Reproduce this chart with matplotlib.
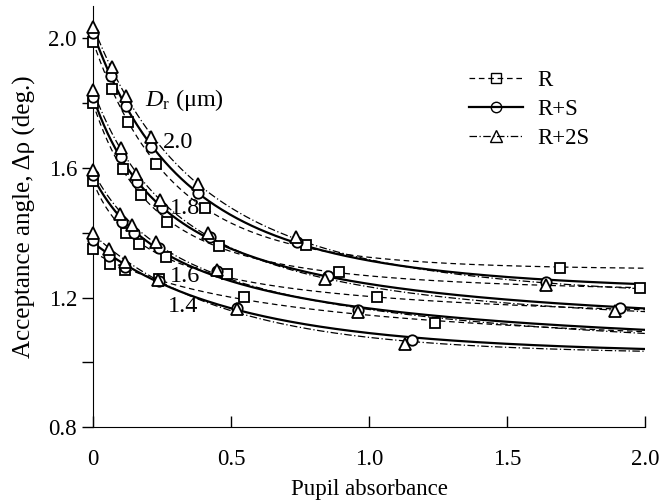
import numpy as np
import matplotlib
matplotlib.use("Agg")
import matplotlib.pyplot as plt

plt.rcParams['font.family'] = ['Liberation Serif', 'DejaVu Serif']
plt.rcParams['mathtext.fontset'] = 'custom'
plt.rcParams['mathtext.rm'] = 'Liberation Serif'
plt.rcParams['mathtext.it'] = 'Liberation Serif:italic'

# receptor diameters D_r (um)
diameters = ["2.0", "1.8", "1.6", "1.4"]

# pupil absorbance / acceptance angle, one pair of lists per curve
# D_r = 2.0
x_20_r = [0, 0.07, 0.127, 0.228, 0.405, 0.77, 1.69]
y_20_r = [1.988, 1.845, 1.743, 1.612, 1.476, 1.361, 1.29]
x_20_rs = [0, 0.065, 0.12, 0.21, 0.38, 0.74, 1.64]
y_20_rs = [2.018, 1.885, 1.792, 1.665, 1.523, 1.37, 1.248]
x_20_r2s = [0, 0.07, 0.12, 0.21, 0.38, 0.735, 1.64]
y_20_r2s = [2.034, 1.913, 1.823, 1.696, 1.55, 1.386, 1.238]
# D_r = 1.8
x_18_r = [0, 0.11, 0.174, 0.27, 0.457, 0.89, 1.98]
y_18_r = [1.80, 1.597, 1.516, 1.433, 1.358, 1.278, 1.23]
x_18_rs = [0, 0.10, 0.16, 0.25, 0.424, 0.85, 1.91]
y_18_rs = [1.82, 1.634, 1.556, 1.476, 1.386, 1.265, 1.169]
x_18_r2s = [0, 0.10, 0.155, 0.243, 0.417, 0.84, 1.89]
y_18_r2s = [1.842, 1.662, 1.58, 1.50, 1.40, 1.258, 1.157]
# D_r = 1.6
x_16_r = [0, 0.12, 0.167, 0.265, 0.485, 1.03]
y_16_r = [1.56, 1.40, 1.364, 1.324, 1.274, 1.203]
x_16_rs = [0, 0.105, 0.15, 0.24, 0.45, 0.96]
y_16_rs = [1.578, 1.433, 1.398, 1.352, 1.281, 1.162]
x_16_r2s = [0, 0.098, 0.14, 0.23, 0.45, 0.96]
y_16_r2s = [1.594, 1.457, 1.423, 1.37, 1.286, 1.155]
# D_r = 1.4
x_14_r = [0, 0.062, 0.115, 0.24, 0.547, 1.24]
y_14_r = [1.349, 1.305, 1.284, 1.256, 1.203, 1.122]
x_14_rs = [0, 0.06, 0.115, 0.24, 0.52, 1.155]
y_14_rs = [1.377, 1.327, 1.293, 1.252, 1.168, 1.07]
x_14_r2s = [0, 0.058, 0.115, 0.236, 0.52, 1.13]
y_14_r2s = [1.40, 1.35, 1.31, 1.255, 1.163, 1.057]

# value of each fitted curve where it meets the right edge (absorbance 2.0)
end_r = [1.29, 1.23, 1.16, 1.095]
end_rs = [1.243, 1.166, 1.10, 1.042]
end_r2s = [1.228, 1.157, 1.09, 1.035]

models = ["R", "R+S", "R+2S"]
curves = {
    "R": [(x_20_r, y_20_r), (x_18_r, y_18_r), (x_16_r, y_16_r), (x_14_r, y_14_r)],
    "R+S": [(x_20_rs, y_20_rs), (x_18_rs, y_18_rs), (x_16_rs, y_16_rs), (x_14_rs, y_14_rs)],
    "R+2S": [(x_20_r2s, y_20_r2s), (x_18_r2s, y_18_r2s), (x_16_r2s, y_16_r2s), (x_14_r2s, y_14_r2s)],
}
ends = {"R": end_r, "R+S": end_rs, "R+2S": end_r2s}

styles = {
    "R": dict(ls=(0, (4.5, 3)), lw=0.9, marker='s', ms=7),
    "R+S": dict(ls='-', lw=1.6, marker='o', ms=7.5),
    "R+2S": dict(ls=(0, (6, 2, 1, 2)), lw=0.9, marker='^', ms=8),
}


def fit_curve(x, y):
    """least squares fit of y = a + b / (1 + c*x)**p"""
    x = np.asarray(x, float)
    y = np.asarray(y, float)
    best = None
    for p in [0.7, 1.0, 1.5, 2.0, 3.0, 5.0, 8.0, 15.0]:
        for c in np.linspace(0.05, 12, 400):
            f = (1 + c * x) ** -p
            fm = f - f.mean()
            b = np.sum(fm * (y - y.mean())) / np.sum(fm ** 2)
            a = y.mean() - b * f.mean()
            err = np.sum((a + b * f - y) ** 2)
            if best is None or err < best[0]:
                best = (err, a, b, c, p)
    return best[1:]


def main():
    fig = plt.figure(figsize=(6.59, 5.03), dpi=100)
    ax = fig.add_axes([0.141, 0.151, 0.838, 0.837])

    xs = np.linspace(0, 2.0, 300)
    for m in models:
        st = styles[m]
        for i, (x, y) in enumerate(curves[m]):
            # right-edge value counted three times so the tail follows the picture
            a, b, c, p = fit_curve(list(x) + [2.0] * 3, list(y) + [ends[m][i]] * 3)
            ax.plot(xs, a + b * (1 + c * xs) ** -p, color='black', ls=st['ls'], lw=st['lw'])
            ax.plot(x, y, ls='none', marker=st['marker'], ms=st['ms'], mfc='white',
                    mec='black', mew=1.3, clip_on=False, zorder=3)
        # legend proxy
        ax.plot([], [], color='black', ls=st['ls'], lw=st['lw'], marker=st['marker'],
                ms=st['ms'], mfc='none', mec='black', mew=1.0, label=m)

    ax.legend(loc='upper left', bbox_to_anchor=(0.665, 0.869), frameon=False,
              fontsize=16.5, handlelength=2.36, handletextpad=0.6, labelspacing=0.33,
              borderaxespad=0)

    # curve labels
    ax.text(0.19, 1.81, r"$D_{\mathrm{r}}$ (μm)", fontsize=17.5, va='center')
    label_pos = [(0.254, 1.68), (0.28, 1.476), (0.28, 1.265), (0.27, 1.172)]
    for lab, (lx, ly) in zip(diameters, label_pos):
        ax.text(lx, ly, lab, fontsize=17.5, va='center')

    ax.set_xlim(0, 2.0)
    ax.set_ylim(0.8, 2.1)
    ax.set_xticks([0, 0.5, 1.0, 1.5, 2.0])
    ax.set_xticklabels(["0", "0.5", "1.0", "1.5", "2.0"])
    ax.set_yticks([0.8, 1.2, 1.6, 2.0])
    ax.set_yticklabels(["0.8", "1.2", "1.6", "2.0"])
    ax.set_yticks([1.0, 1.4, 1.8], minor=True)
    ax.tick_params(axis='x', direction='in', length=8, width=1, labelsize=16.5, pad=16)
    ax.tick_params(axis='y', which='both', direction='out', length=8, width=1, labelsize=16.5)
    ax.spines['top'].set_visible(False)
    ax.spines['right'].set_visible(False)
    ax.set_xlabel("Pupil absorbance", fontsize=16.5, labelpad=6)
    ax.set_ylabel("Acceptance angle, Δρ (deg.)", fontsize=18, labelpad=9)

    fig.savefig("out.png", dpi=100)


if __name__ == '__main__':
    main()
